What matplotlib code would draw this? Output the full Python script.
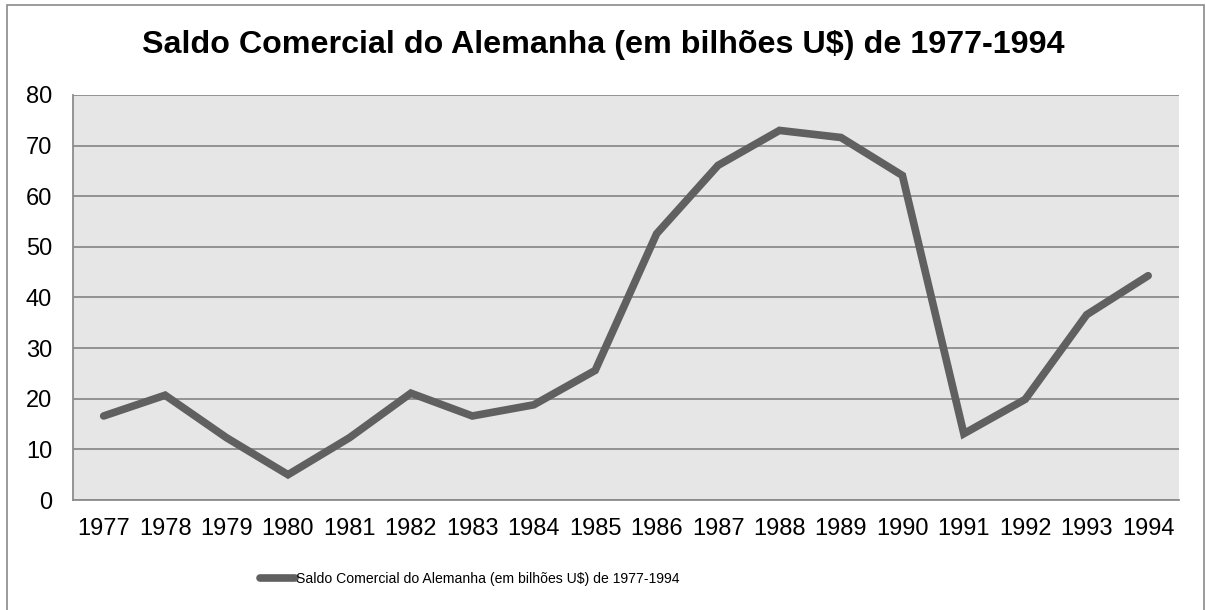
import matplotlib
matplotlib.use("Agg")
from matplotlib import pyplot as plt
from matplotlib.patches import Rectangle

years = [str(y) for y in range(1977, 1995)]
saldo = [16.6, 20.7, 12.3, 5.0, 12.3, 21.1, 16.6, 18.8, 25.6,
         52.6, 66.1, 73.0, 71.6, 64.1, 13.1, 19.9, 36.6, 44.3]
yticks = [0, 10, 20, 30, 40, 50, 60, 70, 80]
titulo = "Saldo Comercial do Alemanha (em bilhões U$) de 1977-1994"

plt.rcParams['font.family'] = ['Liberation Sans', 'DejaVu Sans']

fig = plt.figure(figsize=(12.06, 6.10), dpi=100)
fig.patches.append(Rectangle((0.006, -0.01), 0.992, 1.002, transform=fig.transFigure,
                             fill=False, edgecolor='#8a8a8a', linewidth=1.2))
ax = fig.add_axes([0.0605, 0.1803, 0.917, 0.664])
ax.set_facecolor('#e6e6e6')

x = range(len(years))
ax.plot(x, saldo, color='#606060', linewidth=5.5, solid_capstyle='round',
        solid_joinstyle='miter', label=titulo, zorder=3)

ax.set_xlim(-0.5, len(years) - 0.5)
ax.set_ylim(0, 80)
ax.set_yticks(yticks)
ax.set_xticks(list(x))
ax.set_xticklabels(years)
ax.yaxis.grid(True, color='#8c8c8c', linewidth=1.3)
ax.set_axisbelow(True)
for side in ['top', 'right']:
    ax.spines[side].set_visible(False)
for side in ['left', 'bottom']:
    ax.spines[side].set_color('#8c8c8c')
    ax.spines[side].set_linewidth(1.3)
ax.tick_params(axis='both', length=0, labelsize=17, colors='black')
ax.tick_params(axis='x', pad=13)
ax.tick_params(axis='y', pad=15)

fig.text(0.5, 0.926, titulo, ha='center', va='center', fontsize=23.2, fontweight='bold')

fig.legend(loc='center left', bbox_to_anchor=(0.2156, 0.051), frameon=False,
           handlelength=2.5, handletextpad=0.05, borderpad=0, borderaxespad=0,
           prop={'size': 10.1})

plt.savefig('out.png', dpi=100)
